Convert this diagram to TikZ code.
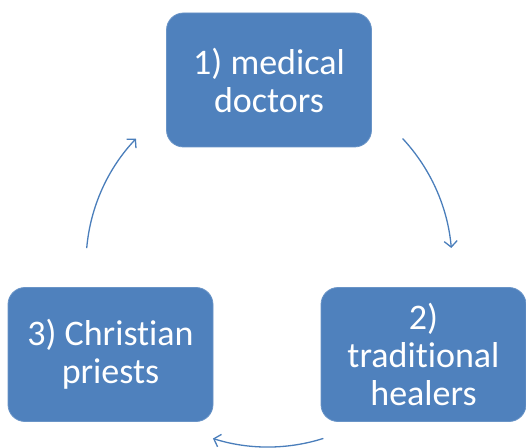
\documentclass[tikz,border=0pt]{standalone}
\usepackage{fontspec}
\setmainfont{Carlito}[Ligatures={NoCommon}]
\usetikzlibrary{arrows.meta}
\definecolor{boxblue}{HTML}{4F81BD}
\definecolor{arrblue}{HTML}{4A7EBB}
\begin{document}
\begin{tikzpicture}[x=1pt,y=1pt,
  stagebox/.style={rectangle, rounded corners=17pt, fill=boxblue, draw=boxblue!85!white, line width=0.8pt,
    text=white, align=center, inner sep=0pt, minimum width=205pt, minimum height=134pt,
    font=\fontsize{36}{38}\selectfont},
  cyclearrow/.style={draw=arrblue, line width=1.3pt, -{Straight Barb[length=6pt,width=13pt,line width=1.3pt]}}]
\useasboundingbox (0,0) rectangle (526,447);
\node[stagebox] (doctors) at (269,367) {1) medical\\doctors};
\node[stagebox] (priests) at (110.5,92.5) {3) Christian\\priests};
\node[stagebox] (healers) at (423.5,92.5) {2)\\traditional\\healers};
\coordinate (c) at (268,183);
\draw[cyclearrow] (c) ++(43:184) arc[start angle=43, end angle=5, radius=184];
\draw[cyclearrow] (c) ++(-72.4:183) arc[start angle=-72.4, end angle=-107.5, radius=183];
\draw[cyclearrow] (c) ++(175:182) arc[start angle=175, end angle=136.5, radius=182];
\end{tikzpicture}
\end{document}
